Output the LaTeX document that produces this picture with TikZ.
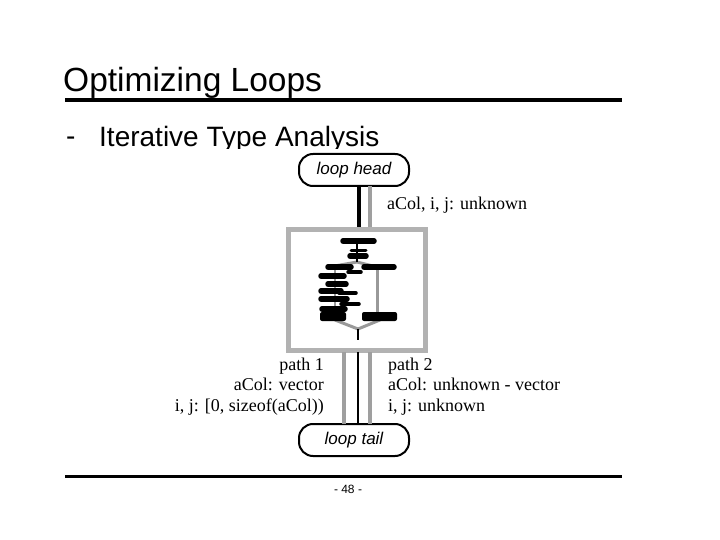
\documentclass[tikz,border=0pt]{standalone}
\usepackage{fontspec}
\setmainfont{Liberation Serif}
\newfontfamily\arialfont{Liberation Sans}
\usetikzlibrary{positioning}
\tikzset{
  loopbox/.style={draw, line width=2pt, rounded corners=14pt, minimum width=110pt, minimum height=32pt, font=\arialfont\itshape\fontsize{17}{17}\selectfont, inner sep=0pt},
  annot/.style={font=\fontsize{18}{18}\selectfont, inner sep=0pt},
  blk/.style={line width=5.5pt, line cap=round},
  gry/.style={line width=3pt, draw=gray!80},
  flowblack/.style={line width=4pt},
  flowgrey/.style={line width=4pt, draw=gray!75},
  rule/.style={line width=4pt},
}
\begin{document}
\begin{tikzpicture}[x=1pt,y=-1pt]
\useasboundingbox (0,0) rectangle (720,540);
% title
\node[anchor=base west, inner sep=0pt, font=\arialfont\fontsize{33.5}{33.5}\selectfont] (title) at (63,92) {Optimizing Loops};
\draw[rule] (65,100) -- (622,100);
\node[anchor=base west, inner sep=0pt, font=\arialfont\fontsize{28}{28}\selectfont] (dash) at (66,146) {-};
\node[anchor=base west, inner sep=0pt, font=\arialfont\fontsize{28}{28}\selectfont] (sub) at (99,147) {Iterative Type Analysis};
% figure background (clips descenders)
\fill[white] (170,149) rectangle (590,470);
% loop head
\node[loopbox] (head) at (354,170) {loop head};
\coordinate (hb) at (359,186);
\coordinate (hg) at (370,186);
\coordinate (bt) at (359,230);
\coordinate (btg) at (370,230);
\draw[flowblack] (hb) -- (bt);
\draw[flowgrey] (hg) -- (btg);
\node[annot, anchor=base west] (unk) at (387,210) {aCol, i, j: unknown};
% grey box
\node[draw=gray!60, line width=5pt, minimum width=137pt, minimum height=121pt, inner sep=0pt] (box) at (357,290) {};
% small flow graph inside
\draw[gry] (357,262) -- (329,267);
\draw[gry] (357,262) -- (377,267);
\draw[gry] (377,267) -- (377,316);
\draw[gry] (335,320) -- (358,329);
\draw[gry] (380,320) -- (358,329);
\draw[line width=2pt] (357,244) -- (357,262);
\draw[line width=2.5pt] (358,329) -- (358,340);
\draw[gry, line width=1.5pt] (335,269) -- (335,312);
\draw[blk] (343,241) -- (374,241);
\draw[blk, line width=3pt] (351,250) -- (366,250);
\draw[blk] (350,256) -- (366,256);
\draw[blk] (364,267) -- (394,267);
\draw[blk] (328,267) -- (351,267);
\draw[blk, line width=3.5pt] (348,272) -- (361,272);
\draw[blk] (321,276) -- (344,276);
\draw[blk] (328,284) -- (346,284);
\draw[blk] (321,291) -- (341,291);
\draw[blk, line width=3.5pt] (339,293) -- (356,293);
\draw[blk] (321,299) -- (347,299);
\draw[blk, line width=3.5pt] (341,304) -- (359,304);
\draw[blk] (322,309) -- (345,309);
\fill[rounded corners=2pt] (320,312) rectangle (346,321);
\fill[rounded corners=2pt] (362,312) rectangle (397,321);
% lines below box
\coordinate (b1) at (344,352);
\coordinate (b2) at (358,352);
\coordinate (b3) at (370,352);
\node[loopbox] (tail) at (354,440) {loop tail};
\draw[flowgrey] (b1) -- (344,424);
\draw[line width=2.2pt] (b2) -- (358,424);
\draw[flowgrey] (b3) -- (370,424);
% path annotations
\node[annot, anchor=base east] (p1) at (324,370) {path 1};
\node[annot, anchor=base east] (p1a) at (324,390) {aCol: vector};
\node[annot, anchor=base east] (p1b) at (324,411) {i, j: [0, sizeof(aCol))};
\node[annot, anchor=base west] (p2) at (388,370) {path 2};
\node[annot, anchor=base west] (p2a) at (388,390) {aCol: unknown - vector};
\node[annot, anchor=base west] (p2b) at (388,411) {i, j: unknown};
% bottom
\draw[line width=3pt] (65,476) -- (622,476);
\node[font=\arialfont\fontsize{12}{12}\selectfont, inner sep=0pt] (pg) at (348,489) {- 48 -};
\end{tikzpicture}
\end{document}
